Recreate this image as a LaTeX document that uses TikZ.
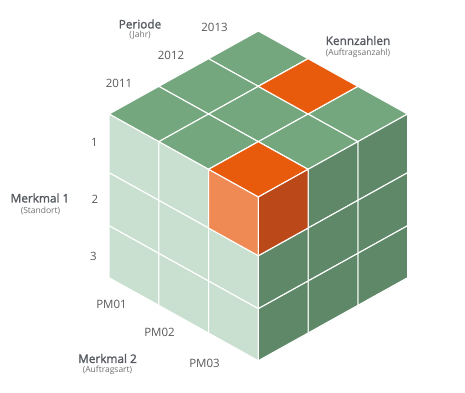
\documentclass[tikz,border=0pt]{standalone}
\usepackage{fontspec}
\setmainfont{Open Sans}
\newfontfamily\semib[FakeBold=1.6]{Open Sans}
\definecolor{topg}{HTML}{74A77E}
\definecolor{leftg}{HTML}{C9DFCF}
\definecolor{rightg}{HTML}{5E8867}
\definecolor{topo}{HTML}{E85A0C}
\definecolor{lefto}{HTML}{F08A55}
\definecolor{righto}{HTML}{BA4818}
\definecolor{labc}{HTML}{595959}
\definecolor{ttlc}{HTML}{575B61}
\definecolor{subc}{HTML}{707070}
\begin{document}
\begin{tikzpicture}[x=1pt,y=-1pt,
  cell/.style={draw=white,line width=1.1pt,line join=round},
  lab/.style={text=labc,font=\fontsize{11.5}{13}\selectfont},
  ttl/.style={text=ttlc,font=\semib\fontsize{11.8}{13}\selectfont},
  sub/.style={text=subc,font=\fontsize{8.5}{10}\selectfont}]
\useasboundingbox (0,0) rectangle (465,392);
\def\Tx{258.3}\def\Ty{31}\def\ux{49.75}\def\uy{27.67}
\def\Lx{109.05}\def\Ly{114}\def\Rx{407.55}\def\Ry{114}
% top face
\foreach \i in {0,1,2}{\foreach \j in {0,1,2}{
  \pgfmathsetmacro\ax{\Tx+\i*\ux-\j*\ux}
  \pgfmathsetmacro\ay{\Ty+\i*\uy+\j*\uy}
  \filldraw[fill=topg, cell] (\ax,\ay) -- ++(\ux,\uy) -- ++(-\ux,\uy) -- ++(-\ux,-\uy) -- cycle;
}}
% left face
\foreach \i in {0,1,2}{\foreach \d/\h in {0/58.7,58.7/53,111.7/52}{
  \pgfmathsetmacro\ax{\Lx+\i*\ux}
  \pgfmathsetmacro\ay{\Ly+\i*\uy+\d}
  \filldraw[fill=leftg, cell] (\ax,\ay) -- ++(\ux,\uy) -- ++(0,\h) -- ++(-\ux,-\uy) -- cycle;
}}
% right face
\foreach \j in {0,1,2}{\foreach \d/\h in {0/58.7,58.7/53,111.7/52}{
  \pgfmathsetmacro\ax{\Rx-\j*\ux}
  \pgfmathsetmacro\ay{\Ry+\j*\uy+\d}
  \filldraw[fill=rightg, cell] (\ax,\ay) -- ++(-\ux,\uy) -- ++(0,\h) -- ++(\ux,-\uy) -- cycle;
}}
% orange cells
\pgfmathsetmacro\oy{\Ty+4*\uy}
\filldraw[fill=topo, cell] (\Tx,\oy) -- ++(\ux,\uy) -- ++(-\ux,\uy) -- ++(-\ux,-\uy) -- cycle;
\pgfmathsetmacro\kx{\Tx+\ux}\pgfmathsetmacro\ky{\Ty+\uy}
\filldraw[fill=topo, cell] (\kx,\ky) -- ++(\ux,\uy) -- ++(-\ux,\uy) -- ++(-\ux,-\uy) -- cycle;
\pgfmathsetmacro\lx{\Lx+2*\ux}\pgfmathsetmacro\ly{\Ly+2*\uy}
\filldraw[fill=lefto, cell] (\lx,\ly) -- ++(\ux,\uy) -- ++(0,58.7) -- ++(-\ux,-\uy) -- cycle;
\pgfmathsetmacro\rx{\Rx-2*\ux}\pgfmathsetmacro\ry{\Ry+2*\uy}
\filldraw[fill=righto, cell] (\rx,\ry) -- ++(-\ux,\uy) -- ++(0,58.7) -- ++(\ux,-\uy) -- cycle;
% labels
\node[ttl] (per) at (140,24) {Periode};
\node[sub] (jahr) at (140,35.5) {(Jahr)};
\node[lab] (y13) at (214.5,27.5) {2013};
\node[lab] (y12) at (171,55.5) {2012};
\node[lab] (y11) at (119,83.5) {2011};
\node[ttl] (kz) at (358,40.5) {Kennzahlen};
\node[sub] (ka) at (358,53) {(Auftragsanzahl)};
\node[lab] (r1) at (94.5,142) {1};
\node[lab] (r2) at (95,199) {2};
\node[lab] (r3) at (93.5,256.5) {3};
\node[ttl] (m1) at (40,198) {Merkmal 1};
\node[sub] (m1s) at (40.5,210.5) {(Standort)};
\node[lab] (pm1) at (111.5,304) {PM01};
\node[lab] (pm2) at (159.5,332) {PM02};
\node[lab] (pm3) at (204.5,363) {PM03};
\node[ttl] (m2) at (107.5,358.5) {Merkmal 2};
\node[sub] (m2s) at (107.5,370.5) {(Auftragsart)};
\end{tikzpicture}
\end{document}
